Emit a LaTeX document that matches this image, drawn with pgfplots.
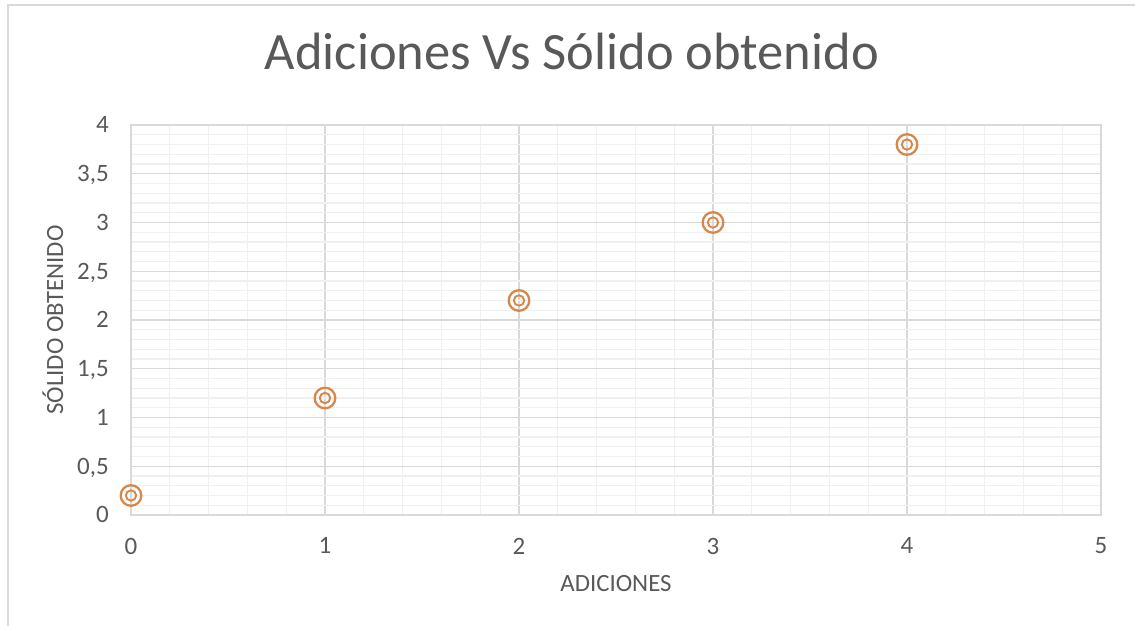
\documentclass[border=0pt]{standalone}
\usepackage{fontspec}
\setmainfont{Carlito}
\usepackage{pgfplots}
\pgfplotsset{compat=1.18}
\definecolor{txt}{HTML}{595959}
\definecolor{majg}{HTML}{D9D9D9}
\definecolor{ming}{HTML}{F0F0F0}
\definecolor{mk}{HTML}{D8874B}
\begin{document}
\begin{tikzpicture}[x=1pt,y=1pt]
\path[use as bounding box] (0,0) rectangle (1135,626);
\draw[majg, line width=2] (8,0) -- (8,620.5) -- (1136,620.5);
\begin{axis}[
  at={(131pt,111pt)}, anchor=south west,
  scale only axis, width=970pt, height=390pt,
  xmin=0, xmax=5, ymin=0, ymax=4,
  xtick={0,1,2,3,4,5}, ytick={0,0.5,1,1.5,2,2.5,3,3.5,4},
  xticklabels={0,1,2,3,4,5},
  yticklabels={0,{0,5},1,{1,5},2,{2,5},3,{3,5},4},
  minor x tick num=4, minor y tick num=4,
  major tick length=0pt, minor tick length=0pt,
  grid=both,
  major grid style={majg, line width=1.4pt},
  minor grid style={ming, line width=1.3pt},
  axis line style={majg, line width=1.4pt},
  clip=false,
  tick label style={font=\fontsize{25}{30}\selectfont, text=txt, inner sep=0pt},
  xticklabel style={anchor=north, yshift=-22.7pt},
  yticklabel style={anchor=base east, xshift=-22pt, yshift=-8pt},
  xlabel={ADICIONES},
  ylabel={SÓLIDO OBTENIDO},
  label style={font=\fontsize{24.8}{30}\selectfont, text=txt, inner sep=0pt},
  xlabel style={at={(axis description cs:0.5,-0.195)}, anchor=base},
  ylabel style={at={(axis description cs:-0.0701,0.5)}, anchor=base},
  title={Adiciones Vs Sólido obtenido},
  title style={font=\fontsize{52.5}{62}\selectfont, text=txt, inner sep=0pt, at={(axis description cs:0.4546,1.128)}, anchor=base},
]
\addplot[only marks, mark=o, mark size=10.3pt, mark options={draw=mk, line width=2.3pt}] coordinates {(0,0.2) (1,1.2) (2,2.2) (3,3) (4,3.8)};
\addplot[only marks, mark=o, mark size=5.2pt, mark options={draw=mk, line width=1.9pt}] coordinates {(0,0.2) (1,1.2) (2,2.2) (3,3) (4,3.8)};
\end{axis}
\end{tikzpicture}
\end{document}
